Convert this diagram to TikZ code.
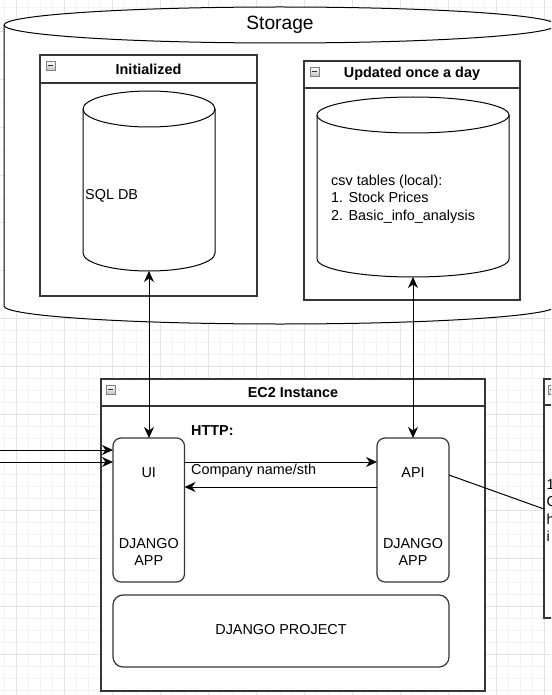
\documentclass[tikz,border=0pt]{standalone}
\usepackage{fontspec}
\setmainfont{Liberation Sans}
\usetikzlibrary{arrows.meta}
\definecolor{gridminor}{HTML}{F3F3F3}
\definecolor{gridmajor}{HTML}{E3E3E3}
\definecolor{boxline}{HTML}{363636}
\newcommand{\cylshape}[4]{%
  \pgfmathsetmacro\cylrx{(#2-#1)/2}%
  \filldraw[cyl] (#1,#3+18) -- (#1,#4-18)
     arc[start angle=180,end angle=360,x radius=\cylrx pt,y radius=18pt]
     -- (#2,#3+18)
     arc[start angle=0,end angle=180,x radius=\cylrx pt,y radius=18pt] -- cycle;
  \draw[cyl,fill=none] (#1,#3+18)
     arc[start angle=180,end angle=360,x radius=\cylrx pt,y radius=18pt];
}
\tikzset{
  lbl/.style={font=\fontsize{14.4}{17.3}\selectfont, inner sep=0pt},
  ttl/.style={font=\fontsize{14.4}{17.3}\selectfont\bfseries, inner sep=0pt},
  box/.style={draw=boxline, line width=1.2pt, fill=white, inner sep=0pt, outer sep=0pt, anchor=north west},
  rbox/.style={box, rounded corners=8pt},
  hline/.style={draw=boxline, line width=1.2pt},
  cyl/.style={draw=black, line width=1pt, fill=white},
  conn/.style={draw=black, line width=1pt},
  arr/.style={conn, -{Stealth[length=11pt,width=10pt,inset=3.5pt]}},
  darr/.style={conn, {Stealth[length=11pt,width=10pt,inset=3.5pt]}-{Stealth[length=11pt,width=10pt,inset=3.5pt]}},
  area/.style={inner sep=0pt, outer sep=0pt, anchor=north west},
  icon/.style={draw=gray, line width=0.6pt, minimum size=9pt, inner sep=0pt,
    top color=white, bottom color=gray!45,
    path picture={\draw[line width=1.3pt,black!80]
      ([xshift=2pt]path picture bounding box.west) --
      ([xshift=-2pt]path picture bounding box.east);}},
}
\begin{document}
\begin{tikzpicture}[x=1pt,y=-1pt]
\useasboundingbox (0,0) rectangle (551,695);
\clip (0,0) rectangle (551,695);
\fill[white] (0,0) rectangle (551,695);
% grid
\foreach \i in {0,...,46} {\draw[gridminor, line width=0.8pt] ({4.7+\i*11.985},0) -- ++(0,695);}
\foreach \i in {0,...,58} {\draw[gridminor, line width=0.8pt] (0,{7.15+\i*11.985}) -- ++(551,0);}
\foreach \i in {0,...,11} {\draw[gridmajor, line width=0.8pt] ({16.7+\i*47.94},0) -- ++(0,695);}
\foreach \i in {0,...,14} {\draw[gridmajor, line width=0.8pt] (0,{31.1+\i*47.94}) -- ++(551,0);}

% Storage cylinder
\cylshape{4}{556}{7}{324}
\node[area, minimum width=552pt, minimum height=317pt] (storage) at (4,7) {};
\node[font=\fontsize{19.2}{23}\selectfont, inner sep=0pt] (storaget) at (280,25) {Storage};

% Initialized container
\node[box, minimum width=217pt, minimum height=241pt] (init) at (40,55) {};
\draw[hline] (init.west |- 0,83) -- (init.east |- 0,83);
\node[icon] (initicon) at (50.5,65.5) {};
\node[ttl] (initt) at (148.5,69) {Initialized};
\cylshape{83}{215}{91}{271}
\node[area, minimum width=132pt, minimum height=180pt] (sqldb) at (83,91) {};
\node[lbl, anchor=west] (sqlt) at (85,196) {SQL DB};

% Updated once a day container
\node[box, minimum width=216pt, minimum height=239pt] (upd) at (304,61) {};
\draw[hline] (upd.west |- 0,88) -- (upd.east |- 0,88);
\node[icon] (updicon) at (314.5,71.5) {};
\node[ttl] (updt) at (412,74) {Updated once a day};
\cylshape{317}{509}{97}{277}
\node[area, minimum width=192pt, minimum height=180pt] (csv) at (317,97) {};
\node[lbl, anchor=west, align=left] (csvt) at (331,199) {csv tables (local):\\1. Stock Prices\\2. Basic\_info\_analysis};

% EC2 instance
\node[box, minimum width=384pt, minimum height=312pt] (ec2) at (101,379) {};
\draw[hline] (ec2.west |- 0,406) -- (ec2.east |- 0,406);
\node[icon] (ec2icon) at (110.5,389.5) {};
\node[ttl] (ec2t) at (293,393) {EC2 Instance};

\node[rbox, minimum width=71.5pt, minimum height=144pt] (ui) at (113,438) {};
\node[lbl] (uit) at (148.75,473) {UI};
\node[lbl, align=center] (uid) at (148.75,552) {DJANGO\\APP};

\node[rbox, minimum width=72pt, minimum height=144pt] (api) at (377,438) {};
\node[lbl] (apit) at (413,473) {API};
\node[lbl, align=center] (apid) at (413,552) {DJANGO\\APP};

\node[box, rounded corners=10pt, minimum width=336pt, minimum height=72pt] (proj) at (113,595) {};
\node[lbl] (projt) at (281,630) {DJANGO PROJECT};

\node[ttl, anchor=west] (http) at (191,431) {HTTP:};
\node[lbl, anchor=west] (comp) at (191,471) {Company name/sth};

% partial box on the right
\node[box, minimum width=30pt, minimum height=239pt] (side) at (544,379) {};
\draw[hline] (side.west |- 0,405) -- (side.east |- 0,405);
\node[icon] (sideicon) at (552.5,389.5) {};
\node[lbl, anchor=west] (s1) at (546.5,485) {1};
\node[lbl, anchor=west] (s2) at (546.5,502) {C};
\node[lbl, anchor=west] (s3) at (546.5,519) {h};
\node[lbl, anchor=west] (s4) at (546.5,536) {i};

% connectors
\coordinate (in1) at (0,450);
\coordinate (in2) at (0,462);
\draw[arr] (in1) -- (in1 -| ui.west);
\draw[arr] (in2) -- (in2 -| ui.west);
\draw[arr] (ui.east |- 0,462) -- (api.west |- 0,462);
\draw[arr] (api.west |- 0,487) -- (ui.east |- 0,487);
\draw[darr] (sqldb.south) -- (sqldb.south |- ui.north);
\draw[darr] (csv.south) -- (csv.south |- api.north);
\draw[conn] (api.east |- 0,475) -- (side.west |- 0,509);
\end{tikzpicture}
\end{document}
